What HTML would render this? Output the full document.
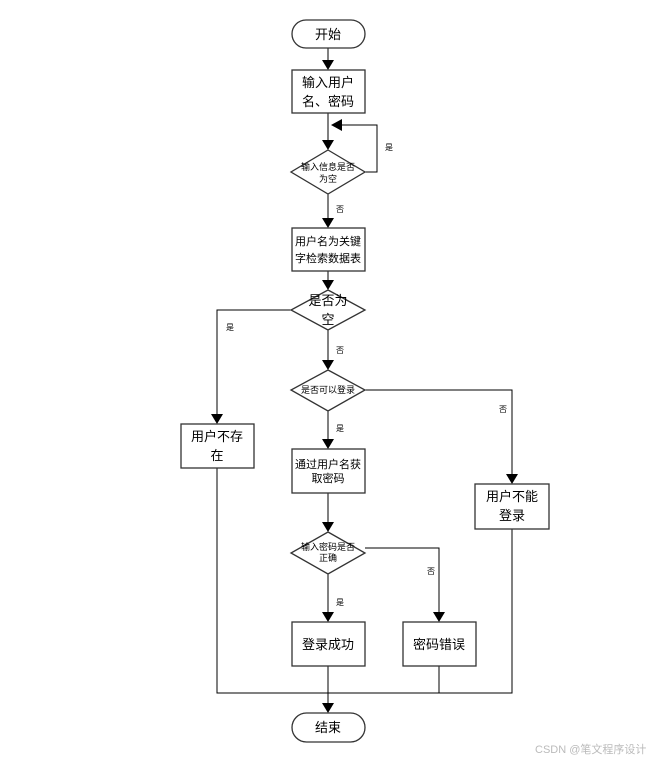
<!DOCTYPE html>
<html><head><meta charset="utf-8"><style>
html,body{margin:0;padding:0;background:#fff;}
svg{display:block;}
text{font-family:"Liberation Sans","Noto Sans CJK SC",sans-serif;fill:#000;}
</style></head><body>
<svg width="665" height="764" viewBox="0 0 665 764" xmlns="http://www.w3.org/2000/svg">
<defs>
<marker id="a" markerWidth="10" markerHeight="10" refX="5" refY="9" orient="auto" markerUnits="userSpaceOnUse">
<path d="M0,0 L10,0 L5,10 z" fill="#000" transform="rotate(-90 5 5) translate(0,0)"/>
</marker>
</defs>
<g stroke="#000" stroke-width="1" fill="none">
<!-- lines -->
<line x1="328" y1="48" x2="328" y2="60"/>
<line x1="328" y1="113" x2="328" y2="140"/>
<polyline points="365,172 377,172 377,125 342,125"/>
<line x1="328" y1="194" x2="328" y2="218"/>
<line x1="328" y1="271" x2="328" y2="280"/>
<polyline points="291,310 217,310 217,414"/>
<line x1="328" y1="330" x2="328" y2="360"/>
<polyline points="365,390 512,390 512,474"/>
<line x1="328" y1="411" x2="328" y2="439"/>
<line x1="328" y1="493" x2="328" y2="522"/>
<polyline points="365,548 439,548 439,612"/>
<line x1="328" y1="574" x2="328" y2="612"/>
<polyline points="217,468 217,693 512,693 512,529"/>
<line x1="439" y1="666" x2="439" y2="693"/>
<line x1="328" y1="666" x2="328" y2="703"/>
</g>
<g fill="#000">
<path d="M322,60 L334,60 L328,70 z"/>
<path d="M322,140 L334,140 L328,150 z"/>
<path d="M342,119 L342,131 L331,125 z"/>
<path d="M322,218 L334,218 L328,228 z"/>
<path d="M322,280 L334,280 L328,290 z"/>
<path d="M211,414 L223,414 L217,424 z"/>
<path d="M322,360 L334,360 L328,370 z"/>
<path d="M506,474 L518,474 L512,484 z"/>
<path d="M322,439 L334,439 L328,449 z"/>
<path d="M322,522 L334,522 L328,532 z"/>
<path d="M433,612 L445,612 L439,622 z"/>
<path d="M322,612 L334,612 L328,622 z"/>
<path d="M322,703 L334,703 L328,713 z"/>
</g>
<g stroke="#333" stroke-width="1.3" fill="#fff">
<rect x="292" y="20" width="73" height="28" rx="14"/>
<rect x="292" y="70" width="73" height="43"/>
<polygon points="328,150 365,172 328,194 291,172"/>
<rect x="292" y="228" width="73" height="43"/>
<polygon points="328,290 365,310 328,330 291,310"/>
<polygon points="328,370 365,390 328,411 291,390"/>
<rect x="181" y="424" width="73" height="44"/>
<rect x="292" y="449" width="73" height="44"/>
<rect x="475" y="484" width="74" height="45"/>
<polygon points="328,532 365,553 328,574 291,553"/>
<rect x="292" y="622" width="73" height="44"/>
<rect x="403" y="622" width="73" height="44"/>
<rect x="292" y="713" width="73" height="29" rx="14.5"/>
</g>
<g text-anchor="middle">
<text x="328" y="39" font-size="13">开始</text>
<text x="328" y="87" font-size="13">输入用户</text>
<text x="328" y="106" font-size="13">名、密码</text>
<text x="328" y="170" font-size="9">输入信息是否</text>
<text x="328" y="182" font-size="9">为空</text>
<text x="328" y="245" font-size="11">用户名为关键</text>
<text x="328" y="262" font-size="11">字检索数据表</text>
<text x="328" y="305" font-size="13">是否为</text>
<text x="328" y="324" font-size="13">空</text>
<text x="328" y="393" font-size="9">是否可以登录</text>
<text x="217" y="441" font-size="13">用户不存</text>
<text x="217" y="460" font-size="13">在</text>
<text x="328" y="468" font-size="11">通过用户名获</text>
<text x="328" y="482" font-size="11">取密码</text>
<text x="512" y="501" font-size="13">用户不能</text>
<text x="512" y="520" font-size="13">登录</text>
<text x="328" y="550" font-size="9">输入密码是否</text>
<text x="328" y="561" font-size="9">正确</text>
<text x="328" y="649" font-size="13">登录成功</text>
<text x="439" y="649" font-size="13">密码错误</text>
<text x="328" y="732" font-size="13">结束</text>
</g>
<g font-size="8">
<text x="385" y="150">是</text>
<text x="336" y="212">否</text>
<text x="226" y="330">是</text>
<text x="336" y="353">否</text>
<text x="499" y="412">否</text>
<text x="336" y="431">是</text>
<text x="427" y="574">否</text>
<text x="336" y="605">是</text>
</g>
<text x="535" y="753" font-size="11" style="fill:#bbb">CSDN @笔文程序设计</text>
</svg>
</body></html>
